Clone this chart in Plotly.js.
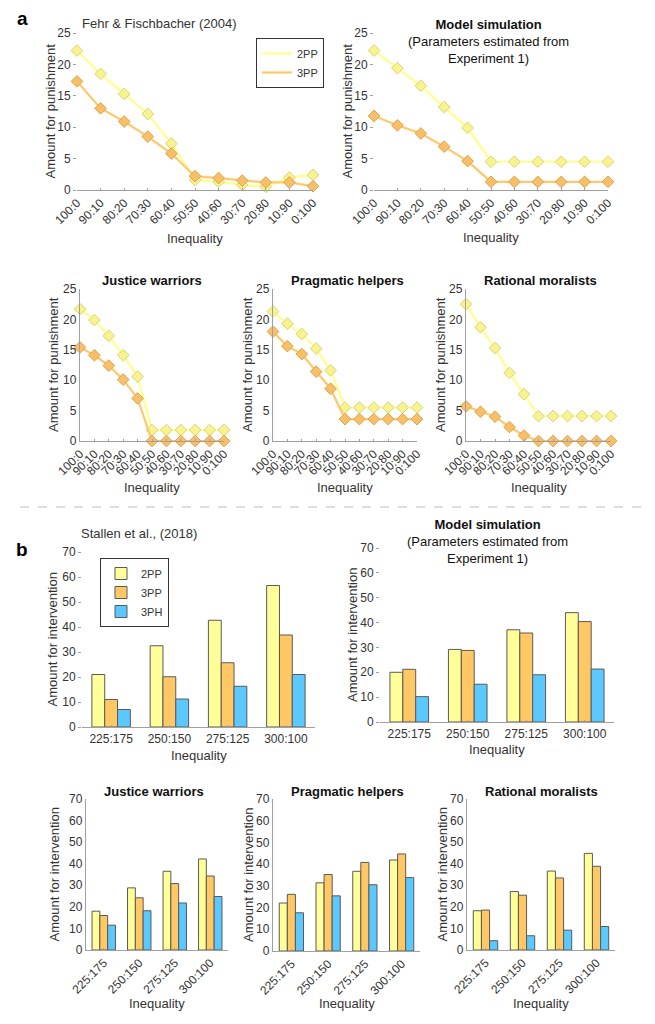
<!DOCTYPE html>
<html>
<head>
<meta charset="utf-8">
<script src="https://cdn.plot.ly/plotly-3.0.1.min.js"></script>
<style>html,body{margin:0;padding:0;background:#fff;}#chart{width:655px;height:1024px;}</style>
</head>
<body>
<div id="chart"></div>
<script>
// ---------- data ----------
const ineqA = ['100:0','90:10','80:20','70:30','60:40','50:50','40:60','30:70','20:80','10:90','0:100'];
const ineqB = ['225:175','250:150','275:125','300:100'];

const fehr2PP   = [22.2,18.5,15.3,12.1,7.4,1.6,1.3,0.8,0.5,2.0,2.4];
const fehr3PP   = [17.3,13.0,10.9,8.5,5.8,2.2,1.9,1.5,1.2,1.2,0.6];
const modelA2PP = [22.2,19.4,16.6,13.2,9.9,4.5,4.5,4.5,4.5,4.5,4.5];
const modelA3PP = [11.8,10.3,9.0,6.9,4.6,1.3,1.3,1.3,1.3,1.3,1.3];
const jwA2PP    = [21.7,19.9,17.3,14.1,10.6,1.8,1.8,1.8,1.8,1.8,1.8];
const jwA3PP    = [15.4,14.1,12.4,10.1,7.0,0,0,0,0,0,0];
const phA2PP    = [21.3,19.3,17.6,15.2,11.6,5.5,5.5,5.5,5.5,5.5,5.5];
const phA3PP    = [18.0,15.6,14.3,11.4,8.6,3.6,3.6,3.6,3.6,3.6,3.6];
const rmA2PP    = [22.5,18.7,15.3,11.2,7.7,4.1,4.1,4.1,4.1,4.1,4.1];
const rmA3PP    = [5.7,4.8,4.0,2.3,0.9,0,0,0,0,0,0];

const stallen2PP = [21.0,32.5,42.7,56.6];
const stallen3PP = [11.0,20.1,25.7,36.8];
const stallen3PH = [7.0,11.2,16.3,21.0];
const modelB2PP  = [20.0,29.2,37.1,44.0];
const modelB3PP  = [21.2,28.8,35.8,40.4];
const modelB3PH  = [10.2,15.2,19.0,21.3];
const jwB2PP = [18.0,28.8,36.5,42.2];
const jwB3PP = [16.0,24.2,30.8,34.3];
const jwB3PH = [11.5,18.2,21.8,24.8];
const phB2PP = [22.1,31.4,36.7,41.9];
const phB3PP = [26.1,35.2,40.8,44.7];
const phB3PH = [17.6,25.4,30.5,33.8];
const rmB2PP = [18.2,27.1,36.6,44.8];
const rmB3PP = [18.5,25.4,33.4,38.8];
const rmB3PH = [4.3,6.6,9.2,10.9];

const seriesNames = ['2PP','3PP','3PH'];

// ---------- style ----------
const W = 655, H = 1024;
const FONT = 'Liberation Sans, Arial, sans-serif';
const C2PP_LINE = '#FFFF8C', C2PP_MK = '#F7F38E', C2PP_EDGE = '#D9D47A';
const C3PP_LINE = '#FFC86A', C3PP_MK = '#F7C068', C3PP_EDGE = '#E0A24C';
const BAR_COLORS = ['#FFFF99', '#FFC864', '#5BC8FF'];
const AXC = '#A0A0A0', TXT = '#333333';

// panel boxes in pixels: [x0, x1, yTop, yBottom]
const panels = [
  {id:1, kind:'line', box:[77,313,33,190],  showY:false, rot:true, d:[fehr2PP,fehr3PP]},
  {id:2, kind:'line', box:[374,608,33,190], showY:false, rot:true, d:[modelA2PP,modelA3PP]},
  {id:3, kind:'line', box:[80,224,289,441], showY:true, rot:true, d:[jwA2PP,jwA3PP]},
  {id:4, kind:'line', box:[273,417,289,441],showY:true, rot:true, d:[phA2PP,phA3PP]},
  {id:5, kind:'line', box:[466,611,289,441],showY:true, rot:true, d:[rmA2PP,rmA3PP]},
  {id:6, kind:'bar', box:[82,315,552,727],  showY:false, rot:false, d:[stallen2PP,stallen3PP,stallen3PH]},
  {id:7, kind:'bar', box:[380,614,548,722], showY:false, rot:false, d:[modelB2PP,modelB3PP,modelB3PH]},
  {id:8, kind:'bar', box:[86,228,799,950],  showY:true, rot:true, d:[jwB2PP,jwB3PP,jwB3PH]},
  {id:9, kind:'bar', box:[273,420,799,951], showY:true, rot:true, d:[phB2PP,phB3PP,phB3PH]},
  {id:10,kind:'bar', box:[467,615,799,950], showY:true, rot:true, d:[rmB2PP,rmB3PP,rmB3PH]}
];

const px = v => v / W;
const py = v => 1 - v / H;

const traces = [];
const layout = {
  width: W, height: H,
  margin: {l:0, r:0, t:0, b:0},
  paper_bgcolor: '#fff', plot_bgcolor: 'rgba(0,0,0,0)',
  font: {family: FONT, color: TXT, size: 12},
  showlegend: true,
  bargap: 0.34, bargroupgap: 0,
  barmode: 'group',
  annotations: [], shapes: [],
  legend: {x: px(256), y: py(38), xanchor:'left', yanchor:'top',
           bgcolor:'#fff', bordercolor:'#333', borderwidth:1,
           font:{family:FONT, size:11, color:TXT}, tracegroupgap:0, itemwidth:30},
  legend2: {x: px(100), y: py(558), xanchor:'left', yanchor:'top',
           bgcolor:'#fff', bordercolor:'#333', borderwidth:1,
           font:{family:FONT, size:11, color:TXT}, tracegroupgap:0, itemwidth:30}
};

panels.forEach(p => {
  const [x0,x1,yt,yb] = p.box;
  const xa = 'xaxis' + (p.id === 1 ? '' : p.id);
  const ya = 'yaxis' + (p.id === 1 ? '' : p.id);
  const xr = 'x' + (p.id === 1 ? '' : p.id);
  const yr = 'y' + (p.id === 1 ? '' : p.id);
  const isLine = p.kind === 'line';
  layout[xa] = {
    domain: [px(x0), px(x1)], anchor: yr,
    type: 'category',
    range: isLine ? [0, 10] : [-0.5, 3.5],
    showline: true, linecolor: AXC, linewidth: 1.2,
    ticks: 'inside', ticklen: 2.5, tickcolor: AXC,
    showgrid: false, zeroline: false,
    tickangle: p.rot ? -45 : 0,
    tickfont: {family: FONT, size: 12, color: TXT},
    fixedrange: true
  };
  layout[ya] = {
    domain: [py(yb), py(yt)], anchor: xr,
    range: isLine ? [0, 25] : [0, 70],
    dtick: isLine ? 5 : 10, tick0: 0,
    showline: p.showY, linecolor: AXC, linewidth: 1.2,
    ticks: p.showY ? '' : 'outside', ticklen: 3, tickcolor: AXC,
    showgrid: false, zeroline: false,
    tickfont: {family: FONT, size: 12, color: TXT},
    fixedrange: true
  };
  if (isLine) {
    const specs = [
      {y: p.d[0], line: C2PP_LINE, mk: C2PP_MK, edge: C2PP_EDGE},
      {y: p.d[1], line: C3PP_LINE, mk: C3PP_MK, edge: C3PP_EDGE}
    ];
    specs.forEach((s, i) => {
      traces.push({
        type: 'scatter', mode: 'lines+markers',
        x: ineqA, y: s.y, xaxis: xr, yaxis: yr,
        line: {color: s.line, width: 2.2},
        marker: {symbol: 'diamond', size: 9, color: s.mk, line: {color: s.edge, width: 1}},
        cliponaxis: false, showlegend: false, hoverinfo: 'skip'
      });
      if (p.id === 1) {
        traces.push({
          type: 'scatter', mode: 'lines', x: [null], y: [null], xaxis: xr, yaxis: yr,
          name: seriesNames[i], line: {color: s.line, width: 2.2},
          showlegend: true, legend: 'legend'
        });
      }
    });
  } else {
    p.d.forEach((vals, i) => {
      traces.push({
        type: 'bar', x: ineqB, y: vals, xaxis: xr, yaxis: yr,
        name: seriesNames[i], offsetgroup: String(i),
        marker: {color: BAR_COLORS[i], line: {color: '#5a5a5a', width: 1}},
        showlegend: p.id === 6, legend: 'legend2', hoverinfo: 'skip'
      });
    });
  }
  // axis titles
  const cx = (x0 + x1) / 2;
  layout.annotations.push({
    xref:'paper', yref:'paper', x: px(cx), y: py(p.xTitleY || 0), text:'Inequality', showarrow:false,
    font:{family:FONT, size:13, color:TXT}, xanchor:'center', yanchor:'middle', _pid:p.id
  });
});

// x-title vertical positions and y-title positions
const xTitleY = {1:238, 2:237, 3:487, 4:487, 5:487, 6:755, 7:749, 8:1003, 9:1003, 10:1003};
const yTitleX = {1:50, 2:347, 3:53, 4:247, 5:440, 6:52, 7:352, 8:54, 9:248, 10:442};
layout.annotations.forEach(a => { a.y = py(xTitleY[a._pid]); });
layout.annotations = layout.annotations.map(a => { const b = Object.assign({}, a); delete b._pid; return b; });
panels.forEach(p => {
  const [x0,x1,yt,yb] = p.box;
  layout.annotations.push({
    xref:'paper', yref:'paper', x: px(yTitleX[p.id]), y: py((yt + yb) / 2),
    text: p.kind === 'line' ? 'Amount for punishment' : 'Amount for intervention',
    textangle: -90, showarrow:false, font:{family:FONT, size:13, color:TXT},
    xanchor:'center', yanchor:'middle'
  });
});

// panel titles
function ann(x, y, text, opts) {
  layout.annotations.push(Object.assign({
    xref:'paper', yref:'paper', x: px(x), y: py(y), text, showarrow:false,
    font:{family:FONT, size:13, color:'#111'}, xanchor:'center', yanchor:'middle'
  }, opts || {}));
}
ann(22, 18, '<b>a</b>', {font:{family:FONT, size:19, color:'#000'}});
ann(80, 23, 'Fehr &amp; Fischbacher (2004)', {xanchor:'left', font:{family:FONT, size:13, color:TXT}});
ann(489, 41, '<b>Model simulation</b><br>(Parameters estimated from<br>Experiment 1)');
ann(152, 280, '<b>Justice warriors</b>');
ann(347, 280, '<b>Pragmatic helpers</b>');
ann(540, 280, '<b>Rational moralists</b>');
ann(22, 549, '<b>b</b>', {font:{family:FONT, size:19, color:'#000'}});
ann(79, 533, 'Stallen et al., (2018)', {xanchor:'left', font:{family:FONT, size:13, color:TXT}});
ann(487, 541, '<b>Model simulation</b><br>(Parameters estimated from<br>Experiment 1)');
ann(154, 791, '<b>Justice warriors</b>');
ann(347, 791, '<b>Pragmatic helpers</b>');
ann(541, 791, '<b>Rational moralists</b>');

// dashed separator
layout.shapes.push({type:'line', xref:'paper', yref:'paper', x0: px(20), x1: px(645), y0: py(507), y1: py(507),
  line:{color:'#BBBBBB', width:1.2, dash:'dash'}});

Plotly.newPlot('chart', traces, layout, {staticPlot: true, displayModeBar: false});
</script>
</body>
</html>
